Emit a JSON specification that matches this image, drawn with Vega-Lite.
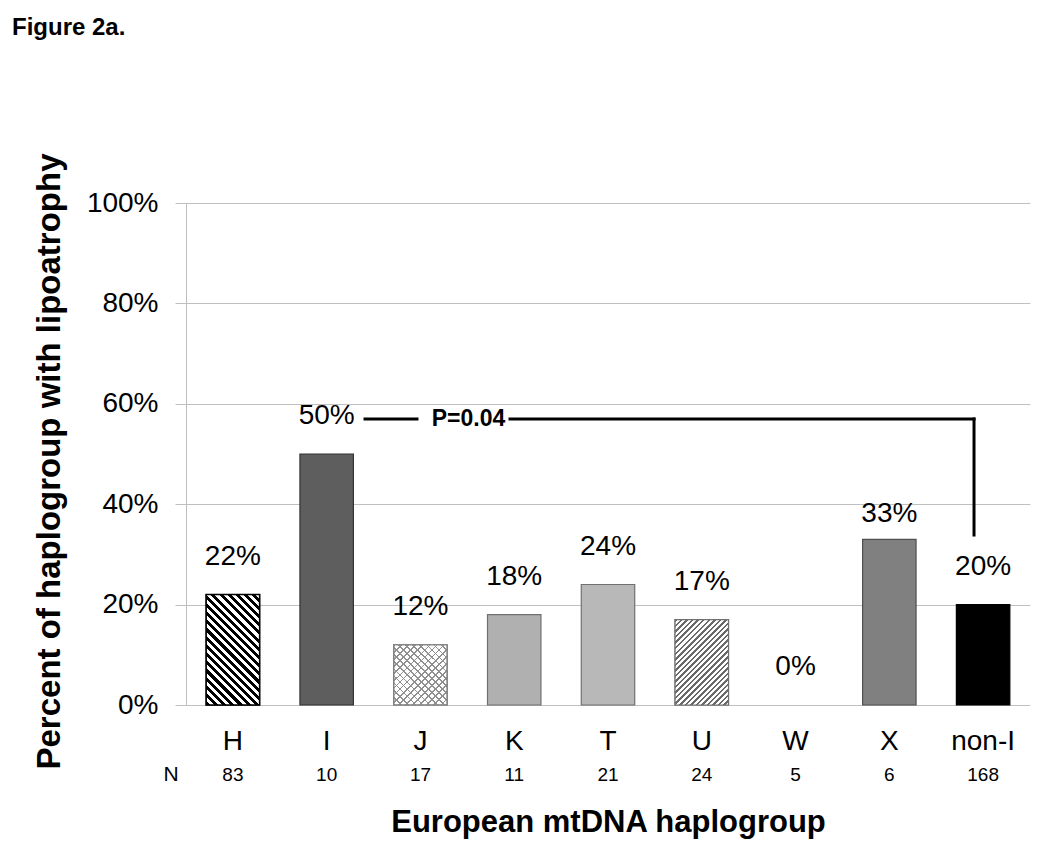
{
  "$schema": "https://vega.github.io/schema/vega-lite/v6.json",
  "width": 844,
  "height": 502,
  "autosize": {"type": "none"},
  "padding": {"left": 186, "top": 203, "right": 20, "bottom": 147},
  "background": "white",
  "config": {
    "font": "Liberation Sans",
    "view": {"stroke": null},
    "text": {"font": "Liberation Sans", "color": "#000000"}
  },
  "title": {
    "text": "Figure 2a.",
    "anchor": "start",
    "frame": "group",
    "fontSize": 24,
    "fontWeight": "bold",
    "font": "Liberation Sans",
    "color": "#000000",
    "dx": -174,
    "offset": 113
  },
  "datasets": {
    "bars": [
      {"haplogroup": "H", "pct": 0.22, "n": "83"},
      {"haplogroup": "I", "pct": 0.50, "n": "10"},
      {"haplogroup": "J", "pct": 0.12, "n": "17"},
      {"haplogroup": "K", "pct": 0.18, "n": "11"},
      {"haplogroup": "T", "pct": 0.24, "n": "21"},
      {"haplogroup": "U", "pct": 0.17, "n": "24"},
      {"haplogroup": "W", "pct": 0.0, "n": "5"},
      {"haplogroup": "X", "pct": 0.33, "n": "6"},
      {"haplogroup": "non-I", "pct": 0.20, "n": "168"}
    ],
    "bracket": [
      {"x": 1.909, "x2": 2.463, "y": 0.5697, "y2": 0.5697},
      {"x": 3.455, "x2": 8.403, "y": 0.5697, "y2": 0.5697},
      {"x": 8.403, "x2": 8.403, "y": 0.5697, "y2": 0.3386}
    ],
    "notes": [
      {"x": 3.012, "y": 0.5697, "text": "P=0.04", "kind": "p"},
      {"x": -0.16, "y": -0.139, "text": "N", "kind": "n"}
    ]
  },
  "resolve": {"scale": {"x": "independent", "y": "independent"}},
  "layer": [
    {
      "data": {"name": "bars"},
      "encoding": {
        "x": {
          "field": "haplogroup",
          "type": "nominal",
          "sort": null,
          "scale": {"type": "band", "paddingInner": 0.43, "paddingOuter": 0.215},
          "axis": {
            "labelAngle": 0,
            "labelFontSize": 28,
            "labelFont": "Liberation Sans",
            "labelColor": "#000000",
            "labelPadding": 22,
            "ticks": false,
            "domain": false,
            "grid": false,
            "title": "European mtDNA haplogroup",
            "titleFontSize": 31,
            "titleFont": "Liberation Sans",
            "titleFontWeight": "bold",
            "titleColor": "#000000",
            "titleBaseline": "middle",
            "titleY": 117
          }
        },
        "y": {
          "field": "pct",
          "type": "quantitative",
          "scale": {"domain": [0, 1], "nice": false},
          "axis": {
            "values": [0, 0.2, 0.4, 0.6, 0.8, 1],
            "format": ".0%",
            "grid": true,
            "gridColor": "#bfbfbf",
            "gridWidth": 1,
            "tickColor": "#bfbfbf",
            "tickSize": 11,
            "domainColor": "#bfbfbf",
            "labelFontSize": 28,
            "labelFont": "Liberation Sans",
            "labelColor": "#000000",
            "labelPadding": 17,
            "title": "Percent of haplogroup with lipoatrophy",
            "titleFontSize": 33,
            "titleFont": "Liberation Sans",
            "titleFontWeight": "bold",
            "titleColor": "#000000",
            "titleAlign": "center",
            "titleBaseline": "middle",
            "titleX": -137,
            "titleY": 258
          }
        }
      },
      "layer": [
        {
          "mark": {"type": "bar", "strokeWidth": 1.2},
          "encoding": {
            "fill": {
              "field": "haplogroup",
              "type": "nominal",
              "scale": {
                "domain": ["H", "I", "J", "K", "T", "U", "W", "X", "non-I"],
                "range": ["#ffffff", "#5e5e5e", "#ffffff", "#b0b0b0", "#b8b8b8", "#ffffff", "rgba(255,255,255,0)", "#808080", "#000000"]
              },
              "legend": null
            },
            "stroke": {
              "field": "haplogroup",
              "type": "nominal",
              "scale": {
                "domain": ["H", "I", "J", "K", "T", "U", "W", "X", "non-I"],
                "range": ["#000000", "#333333", "#808080", "#707070", "#707070", "#707070", "rgba(255,255,255,0)", "#505050", "#000000"]
              },
              "legend": null
            }
          }
        },
        {
          "transform": [{"filter": "datum.haplogroup === 'H'"}],
          "mark": {
            "type": "bar",
            "stroke": "#000000",
            "strokeWidth": 1.5,
            "fill": {
              "gradient": "linear",
              "x1": 0, "y1": 1, "x2": 0.5817, "y2": -0.2024,
              "stops": [
                {"offset": 0, "color": "#000"}, {"offset": 0.025, "color": "#000"}, {"offset": 0.025, "color": "#fff"}, {"offset": 0.05, "color": "#fff"},
                {"offset": 0.05, "color": "#000"}, {"offset": 0.075, "color": "#000"}, {"offset": 0.075, "color": "#fff"}, {"offset": 0.1, "color": "#fff"},
                {"offset": 0.1, "color": "#000"}, {"offset": 0.125, "color": "#000"}, {"offset": 0.125, "color": "#fff"}, {"offset": 0.15, "color": "#fff"},
                {"offset": 0.15, "color": "#000"}, {"offset": 0.175, "color": "#000"}, {"offset": 0.175, "color": "#fff"}, {"offset": 0.2, "color": "#fff"},
                {"offset": 0.2, "color": "#000"}, {"offset": 0.225, "color": "#000"}, {"offset": 0.225, "color": "#fff"}, {"offset": 0.25, "color": "#fff"},
                {"offset": 0.25, "color": "#000"}, {"offset": 0.275, "color": "#000"}, {"offset": 0.275, "color": "#fff"}, {"offset": 0.3, "color": "#fff"},
                {"offset": 0.3, "color": "#000"}, {"offset": 0.325, "color": "#000"}, {"offset": 0.325, "color": "#fff"}, {"offset": 0.35, "color": "#fff"},
                {"offset": 0.35, "color": "#000"}, {"offset": 0.375, "color": "#000"}, {"offset": 0.375, "color": "#fff"}, {"offset": 0.4, "color": "#fff"},
                {"offset": 0.4, "color": "#000"}, {"offset": 0.425, "color": "#000"}, {"offset": 0.425, "color": "#fff"}, {"offset": 0.45, "color": "#fff"},
                {"offset": 0.45, "color": "#000"}, {"offset": 0.475, "color": "#000"}, {"offset": 0.475, "color": "#fff"}, {"offset": 0.5, "color": "#fff"},
                {"offset": 0.5, "color": "#000"}, {"offset": 0.525, "color": "#000"}, {"offset": 0.525, "color": "#fff"}, {"offset": 0.55, "color": "#fff"},
                {"offset": 0.55, "color": "#000"}, {"offset": 0.575, "color": "#000"}, {"offset": 0.575, "color": "#fff"}, {"offset": 0.6, "color": "#fff"},
                {"offset": 0.6, "color": "#000"}, {"offset": 0.625, "color": "#000"}, {"offset": 0.625, "color": "#fff"}, {"offset": 0.65, "color": "#fff"},
                {"offset": 0.65, "color": "#000"}, {"offset": 0.675, "color": "#000"}, {"offset": 0.675, "color": "#fff"}, {"offset": 0.7, "color": "#fff"},
                {"offset": 0.7, "color": "#000"}, {"offset": 0.725, "color": "#000"}, {"offset": 0.725, "color": "#fff"}, {"offset": 0.75, "color": "#fff"},
                {"offset": 0.75, "color": "#000"}, {"offset": 0.775, "color": "#000"}, {"offset": 0.775, "color": "#fff"}, {"offset": 0.8, "color": "#fff"},
                {"offset": 0.8, "color": "#000"}, {"offset": 0.825, "color": "#000"}, {"offset": 0.825, "color": "#fff"}, {"offset": 0.85, "color": "#fff"},
                {"offset": 0.85, "color": "#000"}, {"offset": 0.875, "color": "#000"}, {"offset": 0.875, "color": "#fff"}, {"offset": 0.9, "color": "#fff"},
                {"offset": 0.9, "color": "#000"}, {"offset": 0.925, "color": "#000"}, {"offset": 0.925, "color": "#fff"}, {"offset": 0.95, "color": "#fff"},
                {"offset": 0.95, "color": "#000"}, {"offset": 0.975, "color": "#000"}, {"offset": 0.975, "color": "#fff"}, {"offset": 1, "color": "#fff"}
              ]
            }
          }
        },
        {
          "transform": [{"filter": "datum.haplogroup === 'U'"}],
          "mark": {
            "type": "bar",
            "stroke": "#707070",
            "strokeWidth": 1.2,
            "fill": {
              "gradient": "linear",
              "x1": 0, "y1": 0, "x2": 0.7314, "y2": 1.168,
              "stops": [
                {"offset": 0, "color": "#6a6a6a"}, {"offset": 0.018, "color": "#6a6a6a"}, {"offset": 0.018, "color": "#fff"}, {"offset": 0.04, "color": "#fff"},
                {"offset": 0.04, "color": "#6a6a6a"}, {"offset": 0.058, "color": "#6a6a6a"}, {"offset": 0.058, "color": "#fff"}, {"offset": 0.08, "color": "#fff"},
                {"offset": 0.08, "color": "#6a6a6a"}, {"offset": 0.098, "color": "#6a6a6a"}, {"offset": 0.098, "color": "#fff"}, {"offset": 0.12, "color": "#fff"},
                {"offset": 0.12, "color": "#6a6a6a"}, {"offset": 0.138, "color": "#6a6a6a"}, {"offset": 0.138, "color": "#fff"}, {"offset": 0.16, "color": "#fff"},
                {"offset": 0.16, "color": "#6a6a6a"}, {"offset": 0.178, "color": "#6a6a6a"}, {"offset": 0.178, "color": "#fff"}, {"offset": 0.2, "color": "#fff"},
                {"offset": 0.2, "color": "#6a6a6a"}, {"offset": 0.218, "color": "#6a6a6a"}, {"offset": 0.218, "color": "#fff"}, {"offset": 0.24, "color": "#fff"},
                {"offset": 0.24, "color": "#6a6a6a"}, {"offset": 0.258, "color": "#6a6a6a"}, {"offset": 0.258, "color": "#fff"}, {"offset": 0.28, "color": "#fff"},
                {"offset": 0.28, "color": "#6a6a6a"}, {"offset": 0.298, "color": "#6a6a6a"}, {"offset": 0.298, "color": "#fff"}, {"offset": 0.32, "color": "#fff"},
                {"offset": 0.32, "color": "#6a6a6a"}, {"offset": 0.338, "color": "#6a6a6a"}, {"offset": 0.338, "color": "#fff"}, {"offset": 0.36, "color": "#fff"},
                {"offset": 0.36, "color": "#6a6a6a"}, {"offset": 0.378, "color": "#6a6a6a"}, {"offset": 0.378, "color": "#fff"}, {"offset": 0.4, "color": "#fff"},
                {"offset": 0.4, "color": "#6a6a6a"}, {"offset": 0.418, "color": "#6a6a6a"}, {"offset": 0.418, "color": "#fff"}, {"offset": 0.44, "color": "#fff"},
                {"offset": 0.44, "color": "#6a6a6a"}, {"offset": 0.458, "color": "#6a6a6a"}, {"offset": 0.458, "color": "#fff"}, {"offset": 0.48, "color": "#fff"},
                {"offset": 0.48, "color": "#6a6a6a"}, {"offset": 0.498, "color": "#6a6a6a"}, {"offset": 0.498, "color": "#fff"}, {"offset": 0.52, "color": "#fff"},
                {"offset": 0.52, "color": "#6a6a6a"}, {"offset": 0.538, "color": "#6a6a6a"}, {"offset": 0.538, "color": "#fff"}, {"offset": 0.56, "color": "#fff"},
                {"offset": 0.56, "color": "#6a6a6a"}, {"offset": 0.578, "color": "#6a6a6a"}, {"offset": 0.578, "color": "#fff"}, {"offset": 0.6, "color": "#fff"},
                {"offset": 0.6, "color": "#6a6a6a"}, {"offset": 0.618, "color": "#6a6a6a"}, {"offset": 0.618, "color": "#fff"}, {"offset": 0.64, "color": "#fff"},
                {"offset": 0.64, "color": "#6a6a6a"}, {"offset": 0.658, "color": "#6a6a6a"}, {"offset": 0.658, "color": "#fff"}, {"offset": 0.68, "color": "#fff"},
                {"offset": 0.68, "color": "#6a6a6a"}, {"offset": 0.698, "color": "#6a6a6a"}, {"offset": 0.698, "color": "#fff"}, {"offset": 0.72, "color": "#fff"},
                {"offset": 0.72, "color": "#6a6a6a"}, {"offset": 0.738, "color": "#6a6a6a"}, {"offset": 0.738, "color": "#fff"}, {"offset": 0.76, "color": "#fff"},
                {"offset": 0.76, "color": "#6a6a6a"}, {"offset": 0.778, "color": "#6a6a6a"}, {"offset": 0.778, "color": "#fff"}, {"offset": 0.8, "color": "#fff"},
                {"offset": 0.8, "color": "#6a6a6a"}, {"offset": 0.818, "color": "#6a6a6a"}, {"offset": 0.818, "color": "#fff"}, {"offset": 0.84, "color": "#fff"},
                {"offset": 0.84, "color": "#6a6a6a"}, {"offset": 0.858, "color": "#6a6a6a"}, {"offset": 0.858, "color": "#fff"}, {"offset": 0.88, "color": "#fff"},
                {"offset": 0.88, "color": "#6a6a6a"}, {"offset": 0.898, "color": "#6a6a6a"}, {"offset": 0.898, "color": "#fff"}, {"offset": 0.92, "color": "#fff"},
                {"offset": 0.92, "color": "#6a6a6a"}, {"offset": 0.938, "color": "#6a6a6a"}, {"offset": 0.938, "color": "#fff"}, {"offset": 0.96, "color": "#fff"},
                {"offset": 0.96, "color": "#6a6a6a"}, {"offset": 0.978, "color": "#6a6a6a"}, {"offset": 0.978, "color": "#fff"}, {"offset": 1, "color": "#fff"}
              ]
            }
          }
        },
        {
          "transform": [{"filter": "datum.haplogroup === 'J'"}],
          "mark": {
            "type": "bar",
            "strokeWidth": 0,
            "fill": {
              "gradient": "linear",
              "x1": 0, "y1": 1, "x2": 0.9366, "y2": -0.0565,
              "stops": [
                {"offset": 0, "color": "#909090"}, {"offset": 0.015, "color": "#909090"}, {"offset": 0.015, "color": "rgba(255,255,255,0)"}, {"offset": 0.0625, "color": "rgba(255,255,255,0)"},
                {"offset": 0.0625, "color": "#909090"}, {"offset": 0.0775, "color": "#909090"}, {"offset": 0.0775, "color": "rgba(255,255,255,0)"}, {"offset": 0.125, "color": "rgba(255,255,255,0)"},
                {"offset": 0.125, "color": "#909090"}, {"offset": 0.14, "color": "#909090"}, {"offset": 0.14, "color": "rgba(255,255,255,0)"}, {"offset": 0.1875, "color": "rgba(255,255,255,0)"},
                {"offset": 0.1875, "color": "#909090"}, {"offset": 0.2025, "color": "#909090"}, {"offset": 0.2025, "color": "rgba(255,255,255,0)"}, {"offset": 0.25, "color": "rgba(255,255,255,0)"},
                {"offset": 0.25, "color": "#909090"}, {"offset": 0.265, "color": "#909090"}, {"offset": 0.265, "color": "rgba(255,255,255,0)"}, {"offset": 0.3125, "color": "rgba(255,255,255,0)"},
                {"offset": 0.3125, "color": "#909090"}, {"offset": 0.3275, "color": "#909090"}, {"offset": 0.3275, "color": "rgba(255,255,255,0)"}, {"offset": 0.375, "color": "rgba(255,255,255,0)"},
                {"offset": 0.375, "color": "#909090"}, {"offset": 0.39, "color": "#909090"}, {"offset": 0.39, "color": "rgba(255,255,255,0)"}, {"offset": 0.4375, "color": "rgba(255,255,255,0)"},
                {"offset": 0.4375, "color": "#909090"}, {"offset": 0.4525, "color": "#909090"}, {"offset": 0.4525, "color": "rgba(255,255,255,0)"}, {"offset": 0.5, "color": "rgba(255,255,255,0)"},
                {"offset": 0.5, "color": "#909090"}, {"offset": 0.515, "color": "#909090"}, {"offset": 0.515, "color": "rgba(255,255,255,0)"}, {"offset": 0.5625, "color": "rgba(255,255,255,0)"},
                {"offset": 0.5625, "color": "#909090"}, {"offset": 0.5775, "color": "#909090"}, {"offset": 0.5775, "color": "rgba(255,255,255,0)"}, {"offset": 0.625, "color": "rgba(255,255,255,0)"},
                {"offset": 0.625, "color": "#909090"}, {"offset": 0.64, "color": "#909090"}, {"offset": 0.64, "color": "rgba(255,255,255,0)"}, {"offset": 0.6875, "color": "rgba(255,255,255,0)"},
                {"offset": 0.6875, "color": "#909090"}, {"offset": 0.7025, "color": "#909090"}, {"offset": 0.7025, "color": "rgba(255,255,255,0)"}, {"offset": 0.75, "color": "rgba(255,255,255,0)"},
                {"offset": 0.75, "color": "#909090"}, {"offset": 0.765, "color": "#909090"}, {"offset": 0.765, "color": "rgba(255,255,255,0)"}, {"offset": 0.8125, "color": "rgba(255,255,255,0)"},
                {"offset": 0.8125, "color": "#909090"}, {"offset": 0.8275, "color": "#909090"}, {"offset": 0.8275, "color": "rgba(255,255,255,0)"}, {"offset": 0.875, "color": "rgba(255,255,255,0)"},
                {"offset": 0.875, "color": "#909090"}, {"offset": 0.89, "color": "#909090"}, {"offset": 0.89, "color": "rgba(255,255,255,0)"}, {"offset": 0.9375, "color": "rgba(255,255,255,0)"},
                {"offset": 0.9375, "color": "#909090"}, {"offset": 0.9525, "color": "#909090"}, {"offset": 0.9525, "color": "rgba(255,255,255,0)"}, {"offset": 1, "color": "rgba(255,255,255,0)"}
              ]
            }
          }
        },
        {
          "transform": [{"filter": "datum.haplogroup === 'J'"}],
          "mark": {
            "type": "bar",
            "stroke": "#808080",
            "strokeWidth": 1.2,
            "fill": {
              "gradient": "linear",
              "x1": 0, "y1": 0, "x2": 0.9366, "y2": 1.0565,
              "stops": [
                {"offset": 0, "color": "#909090"}, {"offset": 0.015, "color": "#909090"}, {"offset": 0.015, "color": "rgba(255,255,255,0)"}, {"offset": 0.0625, "color": "rgba(255,255,255,0)"},
                {"offset": 0.0625, "color": "#909090"}, {"offset": 0.0775, "color": "#909090"}, {"offset": 0.0775, "color": "rgba(255,255,255,0)"}, {"offset": 0.125, "color": "rgba(255,255,255,0)"},
                {"offset": 0.125, "color": "#909090"}, {"offset": 0.14, "color": "#909090"}, {"offset": 0.14, "color": "rgba(255,255,255,0)"}, {"offset": 0.1875, "color": "rgba(255,255,255,0)"},
                {"offset": 0.1875, "color": "#909090"}, {"offset": 0.2025, "color": "#909090"}, {"offset": 0.2025, "color": "rgba(255,255,255,0)"}, {"offset": 0.25, "color": "rgba(255,255,255,0)"},
                {"offset": 0.25, "color": "#909090"}, {"offset": 0.265, "color": "#909090"}, {"offset": 0.265, "color": "rgba(255,255,255,0)"}, {"offset": 0.3125, "color": "rgba(255,255,255,0)"},
                {"offset": 0.3125, "color": "#909090"}, {"offset": 0.3275, "color": "#909090"}, {"offset": 0.3275, "color": "rgba(255,255,255,0)"}, {"offset": 0.375, "color": "rgba(255,255,255,0)"},
                {"offset": 0.375, "color": "#909090"}, {"offset": 0.39, "color": "#909090"}, {"offset": 0.39, "color": "rgba(255,255,255,0)"}, {"offset": 0.4375, "color": "rgba(255,255,255,0)"},
                {"offset": 0.4375, "color": "#909090"}, {"offset": 0.4525, "color": "#909090"}, {"offset": 0.4525, "color": "rgba(255,255,255,0)"}, {"offset": 0.5, "color": "rgba(255,255,255,0)"},
                {"offset": 0.5, "color": "#909090"}, {"offset": 0.515, "color": "#909090"}, {"offset": 0.515, "color": "rgba(255,255,255,0)"}, {"offset": 0.5625, "color": "rgba(255,255,255,0)"},
                {"offset": 0.5625, "color": "#909090"}, {"offset": 0.5775, "color": "#909090"}, {"offset": 0.5775, "color": "rgba(255,255,255,0)"}, {"offset": 0.625, "color": "rgba(255,255,255,0)"},
                {"offset": 0.625, "color": "#909090"}, {"offset": 0.64, "color": "#909090"}, {"offset": 0.64, "color": "rgba(255,255,255,0)"}, {"offset": 0.6875, "color": "rgba(255,255,255,0)"},
                {"offset": 0.6875, "color": "#909090"}, {"offset": 0.7025, "color": "#909090"}, {"offset": 0.7025, "color": "rgba(255,255,255,0)"}, {"offset": 0.75, "color": "rgba(255,255,255,0)"},
                {"offset": 0.75, "color": "#909090"}, {"offset": 0.765, "color": "#909090"}, {"offset": 0.765, "color": "rgba(255,255,255,0)"}, {"offset": 0.8125, "color": "rgba(255,255,255,0)"},
                {"offset": 0.8125, "color": "#909090"}, {"offset": 0.8275, "color": "#909090"}, {"offset": 0.8275, "color": "rgba(255,255,255,0)"}, {"offset": 0.875, "color": "rgba(255,255,255,0)"},
                {"offset": 0.875, "color": "#909090"}, {"offset": 0.89, "color": "#909090"}, {"offset": 0.89, "color": "rgba(255,255,255,0)"}, {"offset": 0.9375, "color": "rgba(255,255,255,0)"},
                {"offset": 0.9375, "color": "#909090"}, {"offset": 0.9525, "color": "#909090"}, {"offset": 0.9525, "color": "rgba(255,255,255,0)"}, {"offset": 1, "color": "rgba(255,255,255,0)"}
              ]
            }
          }
        },
        {
          "transform": [{"filter": "datum.haplogroup !== 'X'"}],
          "mark": {"type": "text", "fontSize": 28, "baseline": "middle", "align": "center", "dy": -38},
          "encoding": {"text": {"field": "pct", "type": "quantitative", "format": ".0%"}}
        },
        {
          "transform": [{"filter": "datum.haplogroup === 'X'"}],
          "mark": {"type": "text", "fontSize": 28, "baseline": "middle", "align": "center", "dy": -25},
          "encoding": {"text": {"field": "pct", "type": "quantitative", "format": ".0%"}}
        },
        {
          "mark": {"type": "text", "fontSize": 19, "baseline": "middle", "align": "center"},
          "encoding": {
            "y": {"datum": -0.139},
            "text": {"field": "n", "type": "nominal"}
          }
        }
      ]
    },
    {
      "encoding": {
        "x": {"field": "x", "type": "quantitative", "scale": {"domain": [0, 9], "nice": false, "zero": false}, "axis": null},
        "y": {"field": "y", "type": "quantitative", "scale": {"domain": [0, 1], "nice": false}, "axis": null}
      },
      "layer": [
        {
          "data": {"name": "bracket"},
          "mark": {"type": "rule", "color": "#000000", "strokeWidth": 3, "strokeCap": "square"},
          "encoding": {
            "x2": {"field": "x2"},
            "y2": {"field": "y2"}
          }
        },
        {
          "data": {"name": "notes"},
          "transform": [{"filter": "datum.kind === 'p'"}],
          "mark": {"type": "text", "fontSize": 23, "fontWeight": "bold", "baseline": "middle", "align": "center"},
          "encoding": {"text": {"field": "text", "type": "nominal"}}
        },
        {
          "data": {"name": "notes"},
          "transform": [{"filter": "datum.kind === 'n'"}],
          "mark": {"type": "text", "fontSize": 21, "baseline": "middle", "align": "center"},
          "encoding": {"text": {"field": "text", "type": "nominal"}}
        }
      ]
    }
  ]
}
